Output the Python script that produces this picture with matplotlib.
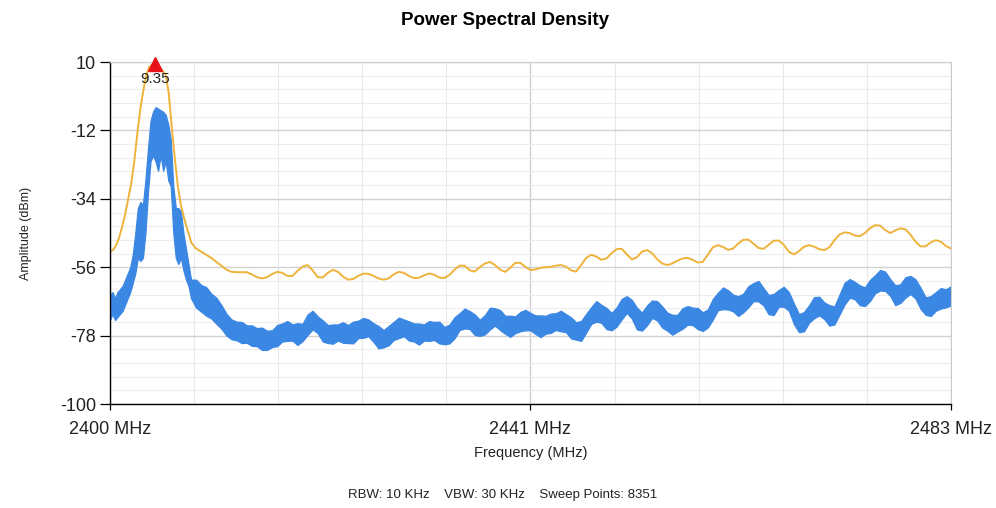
import matplotlib.pyplot as plt
import numpy as np

# max-hold trace (orange), amplitude in dBm
# around the carrier
hold_peak_freq = [2400.0, 2400.3, 2400.6, 2400.9, 2401.2, 2401.5, 2401.8, 2402.1, 2402.4, 2402.7,
                  2403.0, 2403.3, 2403.6, 2403.9, 2404.2, 2404.45, 2404.8, 2405.1, 2405.5, 2405.8,
                  2406.1, 2406.4, 2406.7, 2407.0, 2407.3, 2407.6, 2407.9]
hold_peak_amp = [-51, -50.5, -49, -46.5, -43, -39, -34, -29, -22, -13,
                 -5, 1, 6, 8.5, 9.2, 9.35, 9, 7.5, 6, 0,
                 -11, -21, -30, -36, -40, -43.5, -46.5]
# 2408.0 ... 2483.0 MHz, every 0.5 MHz
hold_amp = [-48, -50, -51, -52, -53, -54.3, -55.5, -56.8, -57.5, -57.6,
            -57.6, -57.6, -58.3, -59.2, -59.6, -59.2, -58.2, -57.5, -57.8, -58.8,
            -58.8, -57.2, -55.8, -55.3, -57, -59.2, -59.3, -57.8, -56.8, -57.5,
            -59, -60, -59.8, -58.8, -58.1, -58.1, -58.8, -59.6, -60, -59.6,
            -58.3, -57.5, -57.8, -58.8, -59.5, -59.4, -58.6, -58, -58.4, -59.3,
            -59.5, -58.5, -56.8, -55.5, -55.5, -57, -57.4, -56, -54.8, -54.3,
            -55.3, -56.8, -57.5, -56.2, -54.6, -54.6, -55.9, -56.9, -56.7, -56.2,
            -56, -55.9, -55.5, -55.3, -55.8, -57, -57.4, -55.3, -53, -52,
            -52.6, -53.6, -53.2, -51.5, -50.2, -50.1, -51.8, -53.5, -52.8, -51,
            -50.5, -51.5, -53.4, -54.8, -55.3, -54.8, -53.9, -53.2, -53, -53.6,
            -54.5, -54.3, -52, -49.6, -48.9, -49.5, -50.4, -50, -48.4, -47.2,
            -47.1, -48.4, -49.8, -50.1, -48.8, -47.5, -47.4, -48.8, -51, -51.9,
            -50.8, -49.4, -48.9, -49.4, -50.2, -50.5, -49.6, -47.3, -45.5, -44.8,
            -45, -45.8, -46, -45, -43.5, -42.5, -42.6, -44, -45, -44.2,
            -43.5, -43.8, -45.5, -47.8, -49.3, -49.3, -48, -47.3, -47.8, -49.2,
            -50]

# live trace (blue), min / max of the sweep points
# 2400.0 ... 2408.0 MHz, every 0.25 MHz
live_peak_low = [-73, -71, -73, -72, -71, -70, -68, -66, -64, -61,
                 -58, -53, -54, -53, -45, -32, -22, -20, -22, -25,
                 -20, -25, -22, -28, -30, -45, -53, -55, -53, -57,
                 -60, -62, -66]
live_peak_high = [-65, -64, -66, -64, -63, -62, -60, -58, -56, -52,
                  -45, -37, -35, -36, -28, -18, -9, -6, -4.5, -5,
                  -5.5, -6, -7, -10, -15, -30, -37, -37, -38, -45,
                  -50, -55, -60]
# 2408.5 ... 2483.0 MHz, every 0.5 MHz: centre and half spread
live_mid = [-64.5, -66, -67, -68.5, -70, -72, -74.5, -76, -76.5, -77,
            -77.5, -78, -78.5, -79, -79.5, -79, -78, -77, -76.5, -77,
            -77.5, -77, -74.5, -73, -74.5, -76.5, -77.5, -77.5, -77, -77,
            -77.5, -77, -76, -75.5, -75.5, -77, -78.5, -79, -78, -76.5,
            -75.5, -75.5, -76.5, -77, -77.5, -77, -76.5, -76.5, -77, -78,
            -77.5, -75.5, -73.5, -72.5, -73, -74.5, -75.5, -74.5, -72.5, -72,
            -73, -74.5, -75, -74.5, -73.5, -73, -73.5, -74.5, -75, -74.5,
            -74, -73.5, -73.3, -74, -75.5, -76.5, -76.5, -74, -71.5, -70.2,
            -71, -72.5, -73.5, -72, -69.5, -68, -69.5, -72.5, -73.5, -71.5,
            -69.5, -70, -72, -73.5, -74.5, -74, -72.5, -71.5, -71.8, -72.5,
            -73.5, -72.5, -69.5, -67, -66, -66.5, -67.5, -68.5, -67.5, -65.5,
            -64, -63.7, -65.5, -68, -68, -66, -65.5, -67, -71, -74,
            -73.5, -71, -69, -68.5, -70, -71.5, -71.5, -68, -64.5, -62.8,
            -63.5, -65, -65.5, -63.5, -61.5, -60.2, -60.5, -62.5, -65, -64.5,
            -62.5, -61.7, -63, -66, -68.5, -68.5, -67, -66, -66, -65.2]
live_spread = [4.5, 4.3, 4.6, 4.0, 4.2, 3.8, 3.5, 3.2, 3.0, 3.4,
               2.8, 3.3, 2.9, 3.6, 3.1, 2.7, 3.4, 2.9, 3.2, 2.6,
               3.5, 2.8, 3.3, 3.0, 2.7, 3.4, 2.9, 3.1, 2.6, 3.3,
               2.9, 3.5, 2.8, 3.2, 2.7, 3.0, 3.6, 2.8, 3.1, 2.9,
               3.3, 2.7, 3.1, 2.9, 3.4, 2.6, 3.2, 2.9, 3.5, 2.8,
               3.0, 3.4, 2.7, 3.2, 2.9, 3.3, 2.6, 3.1, 3.5, 2.8,
               3.2, 2.9, 3.4, 2.7, 3.1, 3.3, 2.8, 3.0, 3.5, 2.9,
               3.1, 2.7, 3.3, 2.9, 3.4, 2.8, 3.2, 3.0, 2.7, 3.3,
               2.9, 3.4, 2.8, 3.1, 3.3, 2.7, 3.0, 3.5, 2.9, 3.2,
               2.8, 3.1, 3.4, 2.9, 3.2, 2.7, 3.3, 3.0, 2.8, 3.4,
               3.0, 2.9, 3.3, 2.8, 3.5, 3.1, 2.7, 3.2, 3.0, 3.4,
               2.9, 3.3, 2.8, 3.1, 3.4, 2.7, 3.2, 3.0, 3.3, 2.9,
               3.1, 2.8, 3.4, 3.0, 2.7, 3.3, 2.9, 3.2, 3.5, 3.0,
               2.8, 3.2, 3.0, 3.4, 2.9, 3.3, 3.1, 2.7, 3.2, 3.0,
               3.3, 2.9, 3.1, 3.4, 2.8, 3.2, 3.0, 3.3, 2.9, 3.1]

peak_freq = 2404.45
peak_amp = 9.35

y_ticks = [10, -12, -34, -56, -78, -100]
x_ticks = [2400, 2441.5, 2483]
x_ticklabels = ["2400 MHz", "2441 MHz", "2483 MHz"]

# frequency axes of the traces
hold_freq = np.concatenate([hold_peak_freq, 2408.0 + 0.5 * np.arange(len(hold_amp))])
hold_all = np.concatenate([hold_peak_amp, hold_amp])
live_freq = np.concatenate([2400.0 + 0.25 * np.arange(len(live_peak_low)),
                            2408.5 + 0.5 * np.arange(len(live_mid))])
live_low = np.concatenate([live_peak_low, np.array(live_mid) - np.array(live_spread)])
live_high = np.concatenate([live_peak_high, np.array(live_mid) + np.array(live_spread)])

plt.rcParams['font.family'] = ['Liberation Sans', 'DejaVu Sans']
plt.rcParams['axes.unicode_minus'] = False
fig = plt.figure(figsize=(9.96, 5.08), dpi=100)
ax = fig.add_axes([0.1104, 0.2047, 0.8444, 0.6732])

ax.set_xlim(2400, 2483)
ax.set_ylim(-100, 10)

# grid
ax.set_yticks(y_ticks)
ax.set_yticks(np.arange(-100, 10.1, 4.4), minor=True)
ax.set_xticks(x_ticks)
ax.set_xticklabels(x_ticklabels)
ax.set_xticks(np.arange(2400, 2483.1, 8.3), minor=True)
ax.grid(which='major', axis='y', color='#d2d2d2', lw=1.0)
ax.grid(which='minor', axis='y', color='#ededed', lw=0.8)
ax.grid(which='major', axis='x', color='#cfcfcf', lw=1.0)
ax.grid(which='minor', axis='x', color='#e8e8e8', lw=0.8)
ax.set_axisbelow(True)

ax.tick_params(which='minor', length=0)
ax.tick_params(axis='y', which='major', length=7, width=0.9, direction='out', pad=3, labelsize=13, labelcolor='#222222')
ax.tick_params(axis='x', which='major', length=4, width=0.9, direction='out', pad=8, labelsize=13, labelcolor='#222222')

# border
ax.spines['left'].set_linewidth(1.0)
ax.spines['bottom'].set_linewidth(1.0)
ax.spines['right'].set_color('#cccccc')
ax.spines['top'].set_color('#cccccc')

ax.fill_between(live_freq, live_low, live_high, color='#3b87e4', lw=0.9, edgecolor='#3b87e4')
ax.plot(hold_freq, hold_all, color='#eeb33b', lw=1.4)

ax.plot([peak_freq], [peak_amp], marker='^', color='#e8101a', ms=10, clip_on=False, zorder=5)
ax.text(peak_freq, peak_amp - 2.5, "%.2f" % peak_amp, ha='center', va='top', fontsize=11, color='#222222')

ax.set_ylabel("Amplitude (dBm)", fontsize=9, labelpad=20, color='#222222')
ax.set_xlabel("Frequency (MHz)", fontsize=10.5, labelpad=6, color='#222222')
fig.text(0.507, 0.96, "Power Spectral Density", ha='center', va='center', fontsize=13.5, fontweight='bold')
fig.text(0.505, 0.025, "RBW: 10 KHz    VBW: 30 KHz    Sweep Points: 8351", ha='center', va='center', fontsize=9.5, color='#222222')

plt.savefig("out.png", dpi=100)
